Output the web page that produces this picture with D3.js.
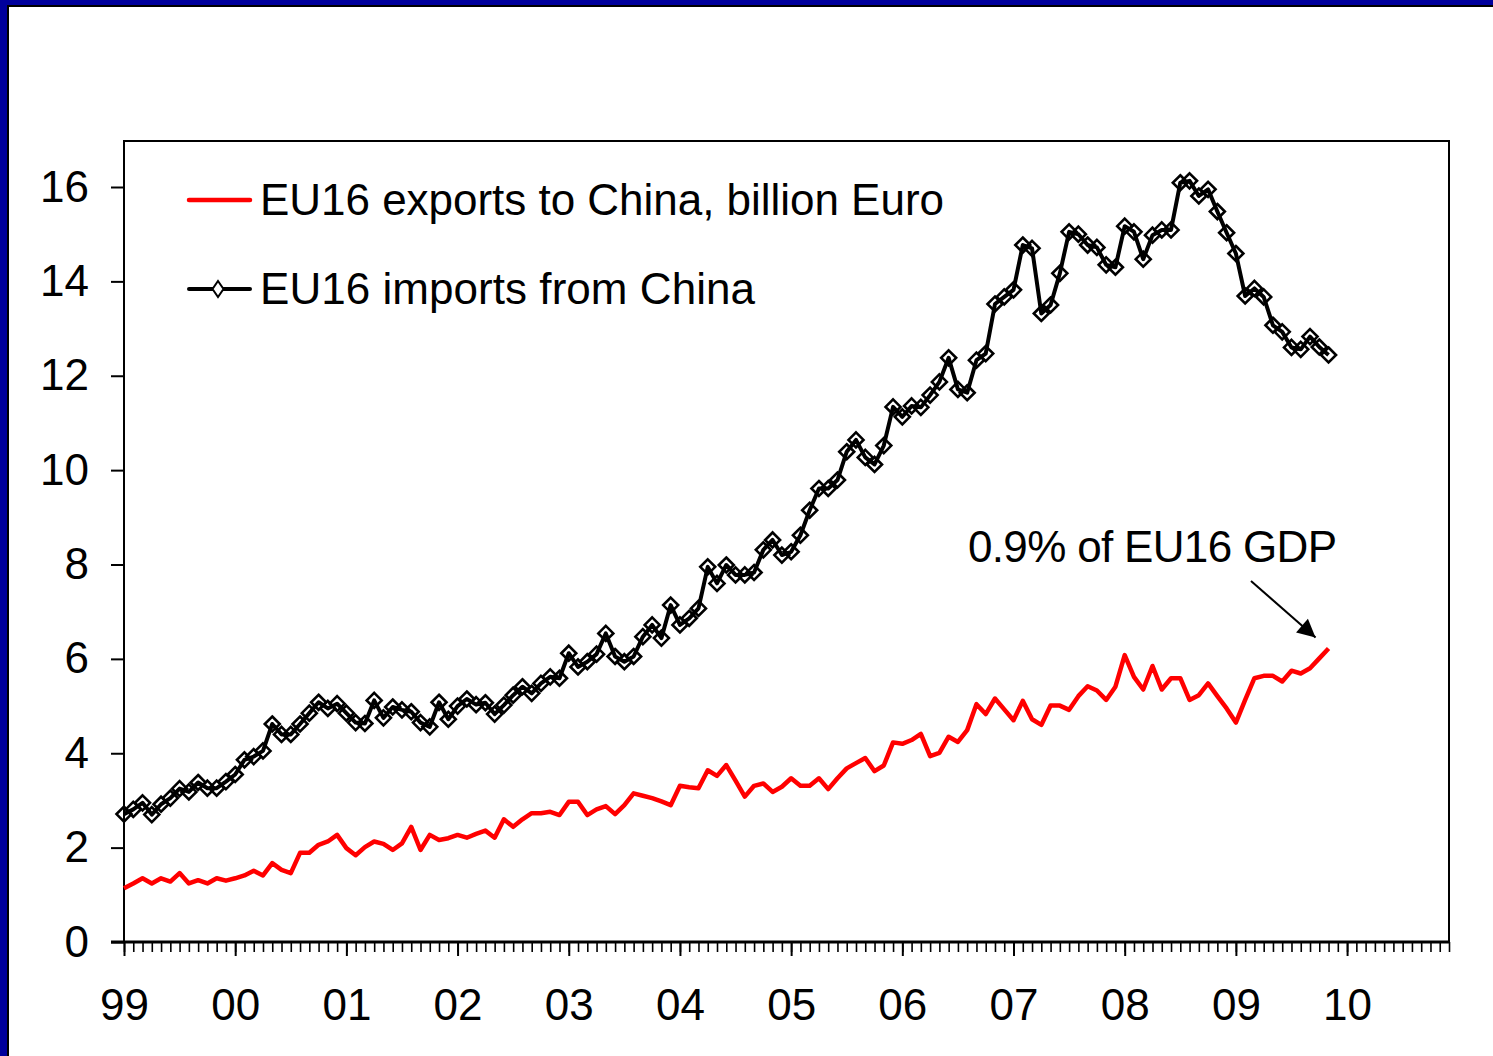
<!DOCTYPE html>
<html><head><meta charset="utf-8">
<script src="https://cdn.jsdelivr.net/npm/d3@7"></script>
<style>html,body{margin:0;padding:0;background:#fff;}svg{display:block;}</style>
</head><body>
<script>
// ---- data ----
const startYear = 1999;
const yearLabels = ["99","00","01","02","03","04","05","06","07","08","09","10"];
const yTicks = [0,2,4,6,8,10,12,14,16];
const seriesNames = ["EU16 exports to China, billion Euro", "EU16 imports from China"];
const annotationText = "0.9% of EU16 GDP";
// monthly values, Jan 1999 .. Nov 2009
const exportsChina = [
1.14,1.24,1.35,1.24,1.35,1.28,1.46,1.24,1.31,1.24,1.35,1.30,
1.35,1.41,1.51,1.41,1.67,1.53,1.46,1.89,1.89,2.06,2.13,2.27,
1.99,1.84,2.01,2.13,2.08,1.95,2.09,2.44,1.95,2.27,2.16,2.20,
2.27,2.21,2.29,2.36,2.21,2.60,2.44,2.60,2.73,2.73,2.76,2.69,
2.97,2.97,2.69,2.81,2.88,2.71,2.90,3.15,3.10,3.05,2.98,2.90,
3.31,3.28,3.26,3.64,3.52,3.75,3.42,3.08,3.31,3.36,3.18,3.29,
3.47,3.31,3.31,3.47,3.24,3.47,3.68,3.79,3.90,3.62,3.74,4.23,
4.20,4.28,4.41,3.94,4.01,4.35,4.24,4.49,5.04,4.83,5.16,4.93,
4.70,5.11,4.72,4.60,5.01,5.01,4.92,5.21,5.42,5.33,5.13,5.41,
6.08,5.62,5.35,5.85,5.35,5.59,5.59,5.13,5.23,5.48,5.21,4.95,
4.65,5.13,5.59,5.64,5.64,5.52,5.75,5.69,5.80,6.01,6.22];
const importsChina = [
2.71,2.81,2.95,2.70,2.92,3.05,3.25,3.18,3.38,3.26,3.26,3.40,
3.55,3.86,3.93,4.05,4.62,4.40,4.40,4.62,4.85,5.08,4.95,5.05,
4.85,4.65,4.63,5.12,4.75,4.98,4.92,4.88,4.65,4.56,5.08,4.72,
5.00,5.15,5.03,5.07,4.83,5.02,5.23,5.41,5.27,5.48,5.62,5.59,
6.12,5.83,5.94,6.10,6.54,6.05,5.94,6.05,6.47,6.72,6.44,7.14,
6.72,6.86,7.07,7.95,7.60,7.99,7.78,7.78,7.83,8.31,8.52,8.20,
8.27,8.62,9.15,9.61,9.61,9.79,10.39,10.64,10.27,10.12,10.52,11.34,
11.13,11.36,11.33,11.59,11.87,12.38,11.71,11.64,12.33,12.47,13.52,13.67,
13.82,14.77,14.70,13.32,13.50,14.17,15.05,15.00,14.77,14.72,14.35,14.30,
15.17,15.05,14.47,14.98,15.09,15.09,16.09,16.13,15.81,15.95,15.48,15.03,
14.59,13.69,13.85,13.67,13.07,12.93,12.60,12.56,12.83,12.61,12.44];
const totalMonths = 143; // Jan 1999 .. end of 2010 on the category axis
const annotatedIndex = exportsChina.length - 1;

// ---- layout ----
const W = 1493, H = 1056;
const plot = {left:124, top:141, right:1449, bottom:942};
const FONT = "'Liberation Sans', Arial, sans-serif";

const svg = d3.select("body").append("svg").attr("width", W).attr("height", H);
svg.append("rect").attr("width", W).attr("height", H).attr("fill", "#fff");

// slide frame
svg.append("rect").attr("x",0).attr("y",0).attr("width",W).attr("height",5).attr("fill","#00009c");
svg.append("rect").attr("x",0).attr("y",0).attr("width",7).attr("height",H).attr("fill","#00009c");
svg.append("line").attr("x1",7).attr("x2",W).attr("y1",6).attr("y2",6).attr("stroke","#000").attr("stroke-width",2);
svg.append("line").attr("x1",8).attr("x2",8).attr("y1",5).attr("y2",H).attr("stroke","#000").attr("stroke-width",2);

const x = d3.scaleLinear().domain([0,totalMonths]).range([plot.left, plot.right]);
const y = d3.scaleLinear().domain([0,16]).range([plot.bottom, plot.bottom - 755]);

// plot box
svg.append("rect").attr("x",plot.left).attr("y",plot.top)
  .attr("width",plot.right-plot.left).attr("height",plot.bottom-plot.top)
  .attr("fill","none").attr("stroke","#000").attr("stroke-width",2);

// y axis
const yAxis = svg.append("g").attr("transform",`translate(${plot.left},0)`)
  .call(d3.axisLeft(y).tickValues(yTicks).tickSize(13).tickPadding(22).tickFormat(d3.format("d")));
yAxis.select(".domain").remove();
yAxis.selectAll(".tick line").attr("stroke","#000").attr("stroke-width",2);
yAxis.selectAll("text").attr("font-family",FONT).attr("font-size",44).attr("fill","#000");

// x axis: monthly minor ticks, yearly major ticks
const xMinor = svg.append("g").attr("transform",`translate(0,${plot.bottom})`)
  .call(d3.axisBottom(x).tickValues(d3.range(0,totalMonths+1)).tickSize(10).tickFormat(""));
xMinor.select(".domain").remove();
xMinor.selectAll(".tick line").attr("stroke","#000").attr("stroke-width",1.6);
const xMajor = svg.append("g").attr("transform",`translate(0,${plot.bottom})`)
  .call(d3.axisBottom(x).tickValues(d3.range(0,totalMonths+1,12)).tickSize(14).tickPadding(33)
    .tickFormat((d,i)=>yearLabels[i]));
xMajor.select(".domain").remove();
xMajor.selectAll(".tick line").attr("stroke","#000").attr("stroke-width",2);
xMajor.selectAll("text").attr("font-family",FONT).attr("font-size",44).attr("fill","#000");
svg.append("line").attr("x1",plot.left-13).attr("x2",plot.right).attr("y1",plot.bottom).attr("y2",plot.bottom)
  .attr("stroke","#000").attr("stroke-width",3);

// lines
const line = d3.line().x((d,i)=>x(i)).y(d=>y(d)).curve(d3.curveLinear);
svg.append("path").datum(exportsChina).attr("d",line).attr("fill","none")
  .attr("stroke","#ff0000").attr("stroke-width",4.5).attr("stroke-linejoin","round");
svg.append("path").datum(importsChina).attr("d",line).attr("fill","none")
  .attr("stroke","#000").attr("stroke-width",4).attr("stroke-linejoin","round");

const diamond = (w,h)=>`M0,${-h}L${w},0L0,${h}L${-w},0Z`;
svg.append("g").selectAll("path").data(importsChina).join("path")
  .attr("transform",(d,i)=>`translate(${x(i)},${y(d)})`)
  .attr("d",diamond(7.5,7.5)).attr("fill","none").attr("stroke","#000").attr("stroke-width",2.6)
  .attr("stroke-linejoin","miter");

// legend
const leg = svg.append("g");
leg.append("line").attr("x1",189).attr("x2",250).attr("y1",200).attr("y2",200)
  .attr("stroke","#ff0000").attr("stroke-width",4.5).attr("stroke-linecap","round");
leg.append("line").attr("x1",189).attr("x2",250).attr("y1",289).attr("y2",289)
  .attr("stroke","#000").attr("stroke-width",4).attr("stroke-linecap","round");
leg.append("path").attr("transform","translate(218,289)").attr("d",diamond(5.5,8))
  .attr("fill","#fff").attr("stroke","#000").attr("stroke-width",2);
leg.append("text").attr("x",260).attr("y",215).text(seriesNames[0])
  .attr("font-family",FONT).attr("font-size",44).attr("textLength",684).attr("lengthAdjust","spacing");
leg.append("text").attr("x",260).attr("y",304).text(seriesNames[1])
  .attr("font-family",FONT).attr("font-size",44).attr("textLength",495).attr("lengthAdjust","spacing");

// annotation
const defs = svg.append("defs");
defs.append("marker").attr("id","ah").attr("viewBox","0 0 10 10").attr("refX",10).attr("refY",5)
  .attr("markerUnits","userSpaceOnUse")
  .attr("orient","auto").attr("markerWidth",22).attr("markerHeight",18)
  .append("path").attr("d","M0,0L10,5L0,10Z").attr("fill","#000");
svg.append("line").attr("x1",1251).attr("y1",581)
  .attr("x2",x(annotatedIndex)-13).attr("y2",y(exportsChina[annotatedIndex])-11)
  .attr("stroke","#000").attr("stroke-width",2).attr("marker-end","url(#ah)");
svg.append("text").attr("x",968).attr("y",562).text(annotationText)
  .attr("font-family",FONT).attr("font-size",44).attr("textLength",369).attr("lengthAdjust","spacing");
</script>
</body></html>
